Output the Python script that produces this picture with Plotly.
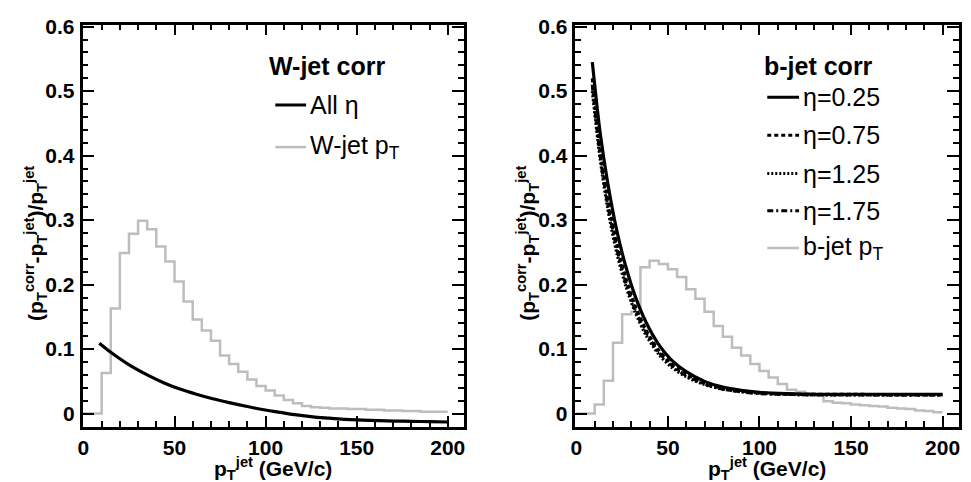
import plotly.graph_objects as go

# ---------------------------------------------------------------- data
# jet pT histogram binning, GeV/c
bin_edges = list(range(0, 205, 5))

# W-jet pT spectrum (arbitrary normalisation), one value per 5 GeV bin
wjet_pt_hist = [0.000, 0.000, 0.063, 0.163, 0.249, 0.279, 0.299, 0.286, 0.259, 0.236,
                0.205, 0.174, 0.146, 0.129, 0.113, 0.090, 0.077, 0.065, 0.053, 0.043,
                0.036, 0.028, 0.021, 0.016, 0.012, 0.010, 0.009, 0.008, 0.008, 0.007,
                0.007, 0.006, 0.006, 0.005, 0.005, 0.004, 0.004, 0.003, 0.003, 0.003]

# b-jet pT spectrum (arbitrary normalisation)
bjet_pt_hist = [0.000, 0.000, 0.014, 0.051, 0.110, 0.154, 0.158, 0.227, 0.237, 0.232,
                0.224, 0.212, 0.193, 0.178, 0.158, 0.136, 0.119, 0.102, 0.090, 0.077,
                0.066, 0.056, 0.046, 0.037, 0.034, 0.031, 0.030, 0.019, 0.017, 0.016,
                0.014, 0.013, 0.012, 0.011, 0.009, 0.008, 0.007, 0.005, 0.004, 0.002]

# W-jet energy correction, all eta
w_corr_pt = [8.7, 15, 20, 26, 35, 44, 53, 62, 71, 80, 90, 99, 108, 117, 126,
             135, 144, 153, 162, 171, 180, 190, 200]
w_corr_all_eta = [0.109, 0.095, 0.085, 0.074, 0.060, 0.048, 0.038, 0.030, 0.023, 0.017,
                  0.011, 0.006, 0.002, -0.002, -0.005, -0.007, -0.009, -0.010, -0.011,
                  -0.0115, -0.012, -0.0125, -0.013]

# b-jet energy correction for four eta slices
b_corr_pt = [8.7, 13, 17, 22, 27, 32, 38, 45, 52, 60, 70, 80, 90, 100, 115, 130, 150, 175, 200]
b_corr_eta025 = [0.545, 0.435, 0.360, 0.285, 0.228, 0.183, 0.142, 0.107, 0.083, 0.065,
                 0.050, 0.041, 0.036, 0.033, 0.031, 0.030, 0.030, 0.030, 0.030]
b_corr_eta075 = [0.520, 0.410, 0.335, 0.265, 0.210, 0.168, 0.130, 0.098, 0.077, 0.061,
                 0.047, 0.039, 0.035, 0.032, 0.030, 0.030, 0.030, 0.029, 0.029]
b_corr_eta125 = [0.500, 0.395, 0.320, 0.250, 0.198, 0.158, 0.122, 0.092, 0.072, 0.057,
                 0.045, 0.038, 0.034, 0.032, 0.030, 0.029, 0.029, 0.029, 0.029]
b_corr_eta175 = [0.510, 0.400, 0.326, 0.257, 0.203, 0.162, 0.126, 0.095, 0.075, 0.059,
                 0.046, 0.038, 0.034, 0.031, 0.030, 0.029, 0.029, 0.029, 0.029]

x_ticks = [0, 50, 100, 150, 200]
y_ticks = [0, 0.1, 0.2, 0.3, 0.4, 0.5, 0.6]
y_tick_text = ["0", "0.1", "0.2", "0.3", "0.4", "0.5", "0.6"]

# ---------------------------------------------------------------- style
W, H = 971, 482
FONT = "Liberation Sans, Arial, Helvetica, sans-serif"
GRAY = "#bdbdbd"
BLACK = "#000000"


def px_x(v):
    return v / W


def px_y(v):
    return 1 - v / H


LEFT_DOM = [px_x(78), px_x(462)]
RIGHT_DOM = [px_x(574), px_x(960)]
Y_DOM = [px_y(426), px_y(15)]

fig = go.Figure()


def step(hist):
    return hist + [hist[-1]]


# left panel: W-jet
fig.add_trace(go.Scatter(x=bin_edges, y=step(wjet_pt_hist), mode="lines",
                         line=dict(color=GRAY, width=2.5, shape="hv"),
                         xaxis="x", yaxis="y", name="W-jet pT"))
fig.add_trace(go.Scatter(x=w_corr_pt, y=w_corr_all_eta, mode="lines",
                         line=dict(color=BLACK, width=3.2, shape="spline", smoothing=0.8),
                         xaxis="x", yaxis="y", name="All eta"))

# right panel: b-jet
fig.add_trace(go.Scatter(x=bin_edges, y=step(bjet_pt_hist), mode="lines",
                         line=dict(color=GRAY, width=2.5, shape="hv"),
                         xaxis="x2", yaxis="y2", name="b-jet pT"))

DASH_075 = "4px,3px"
DASH_125 = "2px,2px"
DASH_175 = "6px,3px,2px,3px"

b_styles = [
    (b_corr_eta175, DASH_175),
    (b_corr_eta125, DASH_125),
    (b_corr_eta075, DASH_075),
    (b_corr_eta025, "solid"),
]
for vals, dash in b_styles:
    fig.add_trace(go.Scatter(x=b_corr_pt, y=vals, mode="lines",
                             line=dict(color=BLACK, width=3.2, dash=dash,
                                       shape="spline", smoothing=0.8),
                             xaxis="x2", yaxis="y2"))

# ---------------------------------------------------------------- axes
tick_font = dict(family=FONT, size=21, color=BLACK, weight="bold")


def xaxis(domain, anchor):
    return dict(domain=domain, anchor=anchor, range=[-0.5, 209],
                tickvals=x_ticks, ticks="inside", ticklen=11, tickwidth=2,
                tickcolor=BLACK, showline=True, linewidth=2.5, linecolor=BLACK,
                mirror="ticks", showgrid=False, zeroline=False, tickfont=tick_font,
                minor=dict(dtick=10, ticks="inside", ticklen=6, tickwidth=1.5,
                           tickcolor=BLACK, showgrid=False))


def yaxis(anchor):
    return dict(domain=Y_DOM, anchor=anchor, range=[-0.021, 0.603],
                tickvals=y_ticks, ticktext=y_tick_text, ticks="inside", ticklen=12,
                tickwidth=2, tickcolor=BLACK, showline=True, linewidth=2.5,
                linecolor=BLACK, mirror="ticks", showgrid=False, zeroline=False,
                tickfont=tick_font, ticklabelstandoff=1,
                minor=dict(dtick=0.02, ticks="inside", ticklen=6, tickwidth=1.5,
                           tickcolor=BLACK, showgrid=False))


annotations = []
shapes = []

ytitle = ("(p<sub>T</sub><sup>corr</sup>-p<sub>T</sub><sup>jet</sup>)"
          "/p<sub>T</sub><sup>jet</sup>")
xtitle = "p<sub>T</sub><sup>jet</sup> (GeV/c)"
title_font = dict(family=FONT, size=21, color=BLACK, weight="bold")

for xc in (30, 525):
    annotations.append(dict(text=ytitle, x=px_x(xc), y=px_y(238), xref="paper",
                            yref="paper", textangle=-90, showarrow=False,
                            xanchor="center", yanchor="middle", font=title_font))
for xc in (270, 767):
    annotations.append(dict(text=xtitle, x=px_x(xc), y=px_y(468), xref="paper",
                            yref="paper", showarrow=False, xanchor="center",
                            yanchor="middle", font=title_font))

leg_title_font = dict(family=FONT, size=25, color=BLACK, weight="bold")
leg_font = dict(family=FONT, size=25, color=BLACK)


def legend_block(x_title, x_line0, x_line1, x_text, title, items):
    annotations.append(dict(text=title, x=px_x(x_title), y=px_y(57), xref="paper",
                            yref="paper", showarrow=False, xanchor="left",
                            yanchor="middle", font=leg_title_font))
    for yc, label, color, dash in items:
        shapes.append(dict(type="line", xref="paper", yref="paper",
                           x0=px_x(x_line0), x1=px_x(x_line1), y0=px_y(yc), y1=px_y(yc),
                           line=dict(color=color, width=3 if color == BLACK else 2.5,
                                     dash=dash)))
        annotations.append(dict(text=label, x=px_x(x_text), y=px_y(yc), xref="paper",
                                yref="paper", showarrow=False, xanchor="left",
                                yanchor="middle", font=leg_font))


legend_block(264, 272, 303, 305, "W-jet corr", [
    (97, "All η", BLACK, "solid"),
    (140, "W-jet p<sub>T</sub>", GRAY, "solid"),
])
legend_block(762, 767, 799, 801, "b-jet corr", [
    (89, "η=0.25", BLACK, "solid"),
    (128, "η=0.75", BLACK, DASH_075),
    (167, "η=1.25", BLACK, DASH_125),
    (205, "η=1.75", BLACK, DASH_175),
    (243, "b-jet p<sub>T</sub>", GRAY, "solid"),
])

fig.update_layout(
    width=W, height=H, margin=dict(l=0, r=0, t=0, b=0),
    paper_bgcolor="white", plot_bgcolor="white", showlegend=False,
    xaxis=xaxis(LEFT_DOM, "y"), yaxis=yaxis("x"),
    xaxis2=xaxis(RIGHT_DOM, "y2"), yaxis2=yaxis("x2"),
    annotations=annotations, shapes=shapes,
    font=dict(family=FONT, color=BLACK),
)

fig.write_html("out.html")
